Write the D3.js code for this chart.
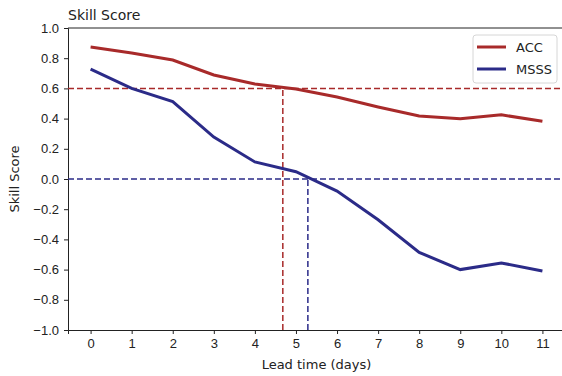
<!DOCTYPE html>
<html>
<head>
<meta charset="utf-8">
<script src="https://cdn.jsdelivr.net/npm/d3@7"></script>
<style>
  body { margin: 0; background: #fff; }
  svg { font-family: "DejaVu Sans", sans-serif; }
  .axis text { font-size: 13px; fill: #222; }
  .axis path, .axis line { stroke: #222; }
</style>
</head>
<body>
<div id="chart"></div>
<script>
const leadDays = [0, 1, 2, 3, 4, 5, 6, 7, 8, 9, 10, 11];
const acc = [0.874, 0.834, 0.788, 0.689, 0.629, 0.596, 0.543, 0.477, 0.417, 0.399, 0.425, 0.382];
const msss = [0.728, 0.600, 0.513, 0.278, 0.113, 0.048, -0.080, -0.270, -0.486, -0.600, -0.556, -0.609];
const yTicks = [-1.0, -0.8, -0.6, -0.4, -0.2, 0.0, 0.2, 0.4, 0.6, 0.8, 1.0];
const accThreshold = 0.6, accCross = 4.68;
const msssThreshold = 0.0, msssCross = 5.29;

const W = 562, H = 376;
const margin = { top: 28, right: -3, bottom: 46, left: 68 };
const width = W - margin.left - margin.right;
const height = H - margin.top - margin.bottom;

const svg = d3.select("#chart").append("svg").attr("width", W).attr("height", H);
const g = svg.append("g").attr("transform", "translate(" + margin.left + "," + margin.top + ")");

const x = d3.scaleLinear().domain([-0.55, 11.55]).range([0, width]);
const y = d3.scaleLinear().domain([-1, 1]).range([height, 0]);

const red = "#a82a2a", blue = "#2b2b88";

// axes
g.append("g")
  .attr("class", "axis")
  .attr("transform", "translate(0," + height + ")")
  .call(d3.axisBottom(x).tickValues(leadDays).tickFormat(d3.format("d")).tickSizeOuter(0).tickSize(4).tickPadding(5));

g.append("g")
  .attr("class", "axis")
  .call(d3.axisLeft(y).tickValues(yTicks).tickFormat(d => d3.format(".1f")(d).replace("-", "\u2212")).tickSizeOuter(0).tickSize(4).tickPadding(5));

// top spine
g.append("line").attr("x1", 0).attr("x2", width).attr("y1", 0).attr("y2", 0).attr("stroke", "#222");

// threshold lines
const dash = "6,3";
g.append("line").attr("x1", 0).attr("x2", width).attr("y1", y(accThreshold)).attr("y2", y(accThreshold))
  .attr("stroke", red).attr("stroke-width", 1.5).attr("stroke-dasharray", dash);
g.append("line").attr("x1", x(accCross)).attr("x2", x(accCross)).attr("y1", height).attr("y2", y(accThreshold))
  .attr("stroke", red).attr("stroke-width", 1.5).attr("stroke-dasharray", dash);
g.append("line").attr("x1", 0).attr("x2", width).attr("y1", y(msssThreshold)).attr("y2", y(msssThreshold))
  .attr("stroke", blue).attr("stroke-width", 1.5).attr("stroke-dasharray", dash);
g.append("line").attr("x1", x(msssCross)).attr("x2", x(msssCross)).attr("y1", height).attr("y2", y(msssThreshold))
  .attr("stroke", blue).attr("stroke-width", 1.5).attr("stroke-dasharray", dash);

// series lines
const line = d3.line().x((d, i) => x(leadDays[i])).y(d => y(d));
g.append("path").datum(acc).attr("d", line).attr("fill", "none").attr("stroke", red).attr("stroke-width", 3);
g.append("path").datum(msss).attr("d", line).attr("fill", "none").attr("stroke", blue).attr("stroke-width", 3);

// title and labels
svg.append("text").attr("x", margin.left).attr("y", 20).attr("font-size", 14).attr("fill", "#222").text("Skill Score");
svg.append("text").attr("x", margin.left + width / 2).attr("y", 369).attr("text-anchor", "middle")
  .attr("font-size", 13).attr("fill", "#222").text("Lead time (days)");
svg.append("text").attr("transform", "translate(19," + (margin.top + height / 2) + ") rotate(-90)")
  .attr("text-anchor", "middle").attr("font-size", 13).attr("fill", "#222").text("Skill Score");

// legend
const lg = svg.append("g").attr("transform", "translate(473,35)");
lg.append("rect").attr("width", 84).attr("height", 48).attr("rx", 3)
  .attr("fill", "#fff").attr("fill-opacity", 0.8).attr("stroke", "#d6d6d6");
[["ACC", red], ["MSSS", blue]].forEach(([name, c], i) => {
  const yy = 12 + i * 22;
  lg.append("line").attr("x1", 4).attr("x2", 33).attr("y1", yy).attr("y2", yy).attr("stroke", c).attr("stroke-width", 3);
  lg.append("text").attr("x", 43).attr("y", yy + 5).attr("font-size", 13).attr("fill", "#222").text(name);
});
</script>
</body>
</html>
